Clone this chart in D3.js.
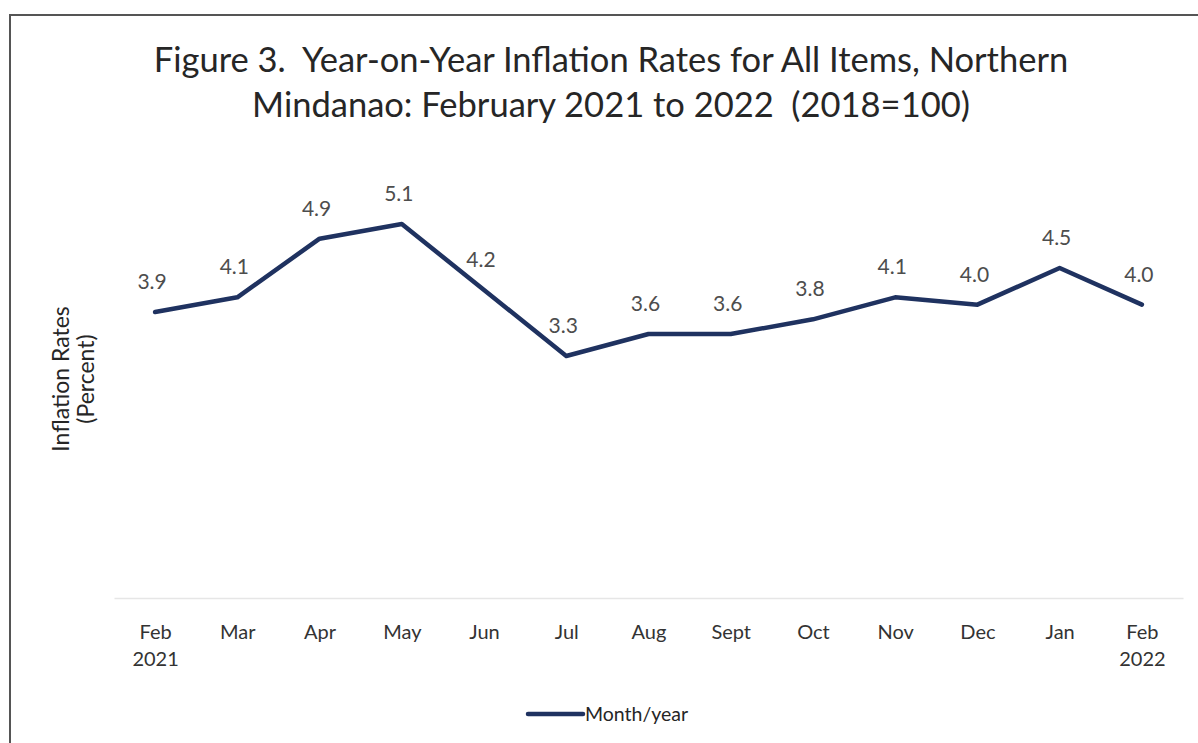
<!DOCTYPE html>
<html>
<head>
<meta charset="utf-8">
<script src="https://cdn.jsdelivr.net/npm/d3@7"></script>
<style>
  body { margin: 0; background: #fff; }
  text { font-family: Lato, "Open Sans", sans-serif; white-space: pre; }
</style>
</head>
<body>
<div id="chart"></div>
<script>
// data
const months = ["Feb 2021", "Mar", "Apr", "May", "Jun", "Jul", "Aug", "Sept", "Oct", "Nov", "Dec", "Jan", "Feb 2022"];
const rates = [3.9, 4.1, 4.9, 5.1, 4.2, 3.3, 3.6, 3.6, 3.8, 4.1, 4.0, 4.5, 4.0];
const titleLines = ["Figure 3.  Year-on-Year Inflation Rates for All Items, Northern",
                    "Mindanao: February 2021 to 2022  (2018=100)"];
const yTitle = ["Inflation Rates", "(Percent)"];
const seriesName = "Month/year";

const data = months.map((m, i) => ({month: m, rate: rates[i]}));

const width = 1198, height = 743;
const margin = {top: 158, right: 15, bottom: 145, left: 114};
const lineColor = "#1f3260";

const svg = d3.select("#chart").append("svg")
    .attr("width", width)
    .attr("height", height);

// outer frame (only top and left edges visible in the scan)
svg.append("path")
    .attr("d", `M10,${height + 5} L10,15 L${width + 5},15`)
    .attr("fill", "none")
    .attr("stroke", "#555")
    .attr("stroke-width", 2);

// title
svg.append("text")
    .attr("x", 611)
    .attr("y", 72)
    .attr("text-anchor", "middle")
    .attr("font-size", 34.5)
    .attr("fill", "#262626")
    .selectAll("tspan")
    .data(titleLines)
    .join("tspan")
    .attr("x", 611)
    .attr("dy", (d, i) => i === 0 ? 0 : 45)
    .text(d => d);

const x = d3.scalePoint()
    .domain(months)
    .range([margin.left, width - margin.right])
    .padding(0.5);

const y = d3.scaleLinear()
    .domain([0, 6])
    .range([height - margin.bottom, margin.top]);

// x axis: faint baseline, no ticks, two-line labels
const xAxisG = svg.append("g")
    .attr("transform", `translate(0,${height - margin.bottom})`)
    .call(d3.axisBottom(x).tickSize(0).tickPadding(0));

xAxisG.select(".domain")
    .attr("stroke", "#e6e6e6")
    .attr("stroke-width", 1.5);

xAxisG.selectAll(".tick text").remove();
xAxisG.selectAll(".tick").append("text")
    .attr("text-anchor", "middle")
    .attr("font-size", 20)
    .attr("fill", "#333")
    .selectAll("tspan")
    .data(d => d.split(" "))
    .join("tspan")
    .attr("x", 0)
    .attr("y", (d, i) => 41 + i * 27)
    .text(d => d);

// y axis title
const yt = svg.append("text")
    .attr("transform", `translate(69,${(y(0) + y(6)) / 2 + 1}) rotate(-90)`)
    .attr("text-anchor", "middle")
    .attr("font-size", 23)
    .attr("fill", "#262626");
yt.selectAll("tspan")
    .data(yTitle)
    .join("tspan")
    .attr("x", 0)
    .attr("dy", (d, i) => i === 0 ? 0 : 25)
    .text(d => d);

// line
const line = d3.line()
    .x(d => x(d.month))
    .y(d => y(d.rate));

svg.append("path")
    .datum(data)
    .attr("fill", "none")
    .attr("stroke", lineColor)
    .attr("stroke-width", 4.5)
    .attr("stroke-linejoin", "round")
    .attr("stroke-linecap", "round")
    .attr("d", line);

// data labels
svg.selectAll(".label")
    .data(data)
    .join("text")
    .attr("class", "label")
    .attr("x", d => x(d.month) - 3)
    .attr("y", d => y(d.rate) - 23)
    .attr("text-anchor", "middle")
    .attr("font-size", 21)
    .attr("fill", "#4d4d4d")
    .text(d => d.rate.toFixed(1));

// legend
const lg = svg.append("g").attr("transform", "translate(528,714)");
lg.append("line")
    .attr("x1", 0).attr("x2", 55)
    .attr("stroke", lineColor)
    .attr("stroke-width", 4.5)
    .attr("stroke-linecap", "round");
lg.append("text")
    .attr("x", 57)
    .attr("y", 7)
    .attr("font-size", 19.5)
    .attr("fill", "#262626")
    .text(seriesName);
</script>
</body>
</html>
